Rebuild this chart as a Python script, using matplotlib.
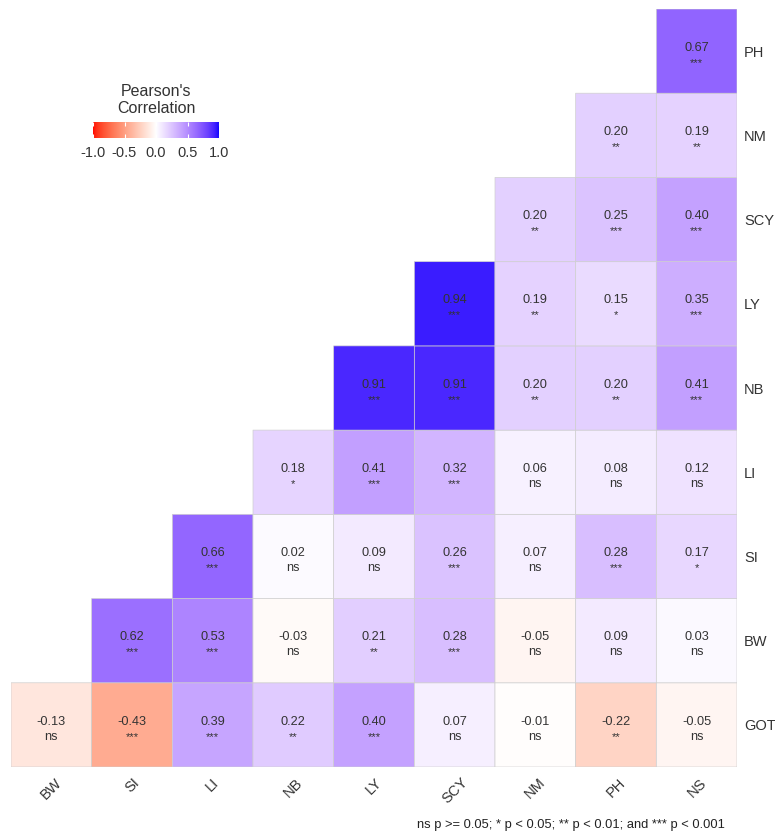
import numpy as np
import matplotlib
matplotlib.use("Agg")
import matplotlib.pyplot as plt
from matplotlib.colors import ListedColormap, Normalize
import matplotlib.cm as cm

plt.rcParams['font.family'] = ['Liberation Sans', 'DejaVu Sans']

# columns left to right, rows bottom to top
cols = ["BW", "SI", "LI", "NB", "LY", "SCY", "NM", "PH", "NS"]
rows = ["GOT", "BW", "SI", "LI", "NB", "LY", "SCY", "NM", "PH"]

# each row holds the cells from the diagonal to NS
r_got = [-0.13, -0.43, 0.39, 0.22, 0.40, 0.07, -0.01, -0.22, -0.05]
r_bw = [0.62, 0.53, -0.03, 0.21, 0.28, -0.05, 0.09, 0.03]
r_si = [0.66, 0.02, 0.09, 0.26, 0.07, 0.28, 0.17]
r_li = [0.18, 0.41, 0.32, 0.06, 0.08, 0.12]
r_nb = [0.91, 0.91, 0.20, 0.20, 0.41]
r_ly = [0.94, 0.19, 0.15, 0.35]
r_scy = [0.20, 0.25, 0.40]
r_nm = [0.20, 0.19]
r_ph = [0.67]

s_got = ["ns", "***", "***", "**", "***", "ns", "ns", "**", "ns"]
s_bw = ["***", "***", "ns", "**", "***", "ns", "ns", "ns"]
s_si = ["***", "ns", "ns", "***", "ns", "***", "*"]
s_li = ["*", "***", "***", "ns", "ns", "ns"]
s_nb = ["***", "***", "**", "**", "***"]
s_ly = ["***", "**", "*", "***"]
s_scy = ["**", "***", "***"]
s_nm = ["**", "**"]
s_ph = ["***"]

corr_rows = [r_got, r_bw, r_si, r_li, r_nb, r_ly, r_scy, r_nm, r_ph]
sig_rows = [s_got, s_bw, s_si, s_li, s_nb, s_ly, s_scy, s_nm, s_ph]


# red - white - blue interpolated in CIELAB (like ggplot gradient2)
def to_lab(rgb):
    c = np.asarray(rgb, dtype=float)
    lin = np.where(c <= 0.04045, c / 12.92, ((c + 0.055) / 1.055) ** 2.4)
    M = np.array([[0.4124, 0.3576, 0.1805],
                  [0.2126, 0.7152, 0.0722],
                  [0.0193, 0.1192, 0.9505]])
    xyz = M @ lin / np.array([0.95047, 1.0, 1.08883])
    d = 6 / 29
    f = np.where(xyz > d ** 3, np.cbrt(xyz), xyz / (3 * d * d) + 4 / 29)
    return np.array([116 * f[1] - 16, 500 * (f[0] - f[1]), 200 * (f[1] - f[2])])


def from_lab(lab):
    L, a, b = lab
    fy = (L + 16) / 116
    fx = fy + a / 500
    fz = fy - b / 200
    d = 6 / 29
    f = np.array([fx, fy, fz])
    xyz = np.where(f > d, f ** 3, 3 * d * d * (f - 4 / 29)) * np.array([0.95047, 1.0, 1.08883])
    Minv = np.array([[3.2406, -1.5372, -0.4986],
                     [-0.9689, 1.8758, 0.0415],
                     [0.0557, -0.2040, 1.0570]])
    lin = np.clip(Minv @ xyz, 0, 1)
    c = np.where(lin <= 0.0031308, 12.92 * lin, 1.055 * lin ** (1 / 2.4) - 0.055)
    return np.clip(c, 0, 1)


red, white, blue = to_lab([1, 0, 0]), to_lab([1, 1, 1]), to_lab([0, 0, 1])
lut = []
for t in np.linspace(-1, 1, 256):
    if t < 0:
        lab = white + (red - white) * (-t)
    else:
        lab = white + (blue - white) * t
    lut.append(from_lab(lab))
cmap = ListedColormap(lut)
norm = Normalize(-1, 1)

n = len(cols)
mat = np.full((n, n), np.nan)
for i, vals in enumerate(corr_rows):
    start = n - len(vals)
    mat[i, start:] = vals
mat = np.ma.masked_invalid(mat)

fig = plt.figure(figsize=(7.75, 8.34), dpi=100)
ax = fig.add_axes([11 / 775, 1 - 767 / 834, 726 / 775, 758 / 834])
ax.pcolor(np.arange(n + 1), np.arange(n + 1), mat, cmap=cmap, norm=norm,
          edgecolors='#cfcfcf', linewidth=0.5)

for i, vals in enumerate(corr_rows):
    start = n - len(vals)
    for k, v in enumerate(vals):
        x = start + k + 0.5
        ax.text(x, i + 0.54, "%.2f" % v, ha='center', va='center',
                fontsize=9.2, color='#333333')
        ax.text(x, i + 0.36, sig_rows[i][k], ha='center', va='center',
                fontsize=9.2 if sig_rows[i][k] == "ns" else 8, color='#333333')

ax.set_xlim(0, n)
ax.set_ylim(0, n)
for s in ax.spines.values():
    s.set_visible(False)
ax.set_xticks(np.arange(n) + 0.5)
ax.set_xticklabels(cols, rotation=45, ha='center', va='top', fontsize=10.5, color='#333333')
ax.yaxis.tick_right()
ax.set_yticks(np.arange(n) + 0.5)
ax.set_yticklabels(rows, fontsize=10.5, color='#333333')
ax.tick_params(length=0, pad=5)
ax.tick_params(axis='x', pad=6)

# legend
cax = fig.add_axes([93 / 775, 1 - 138 / 834, 126 / 775, 16 / 834])
cb = fig.colorbar(cm.ScalarMappable(norm=norm, cmap=cmap), cax=cax, orientation='horizontal',
                  ticks=[-1, -0.5, 0, 0.5, 1])
cb.outline.set_visible(False)
cb.ax.set_xticklabels(["-1.0", "-0.5", "0.0", "0.5", "1.0"])
cb.ax.tick_params(axis='x', length=3, width=0.8, color='white', direction='in',
                  top=True, bottom=True, labelsize=10.5, labelcolor='#333333', pad=6)
fig.text(156 / 775, 1 - 100 / 834, "Pearson's\nCorrelation", ha='center', va='center',
         fontsize=11.5, color='#333333', linespacing=1.1)

fig.text(725 / 775, 1 - 825 / 834, "ns p >= 0.05; * p < 0.05; ** p < 0.01; and *** p < 0.001",
         ha='right', va='center', fontsize=9.3, color='#222222')

fig.savefig("out.png", dpi=100)
